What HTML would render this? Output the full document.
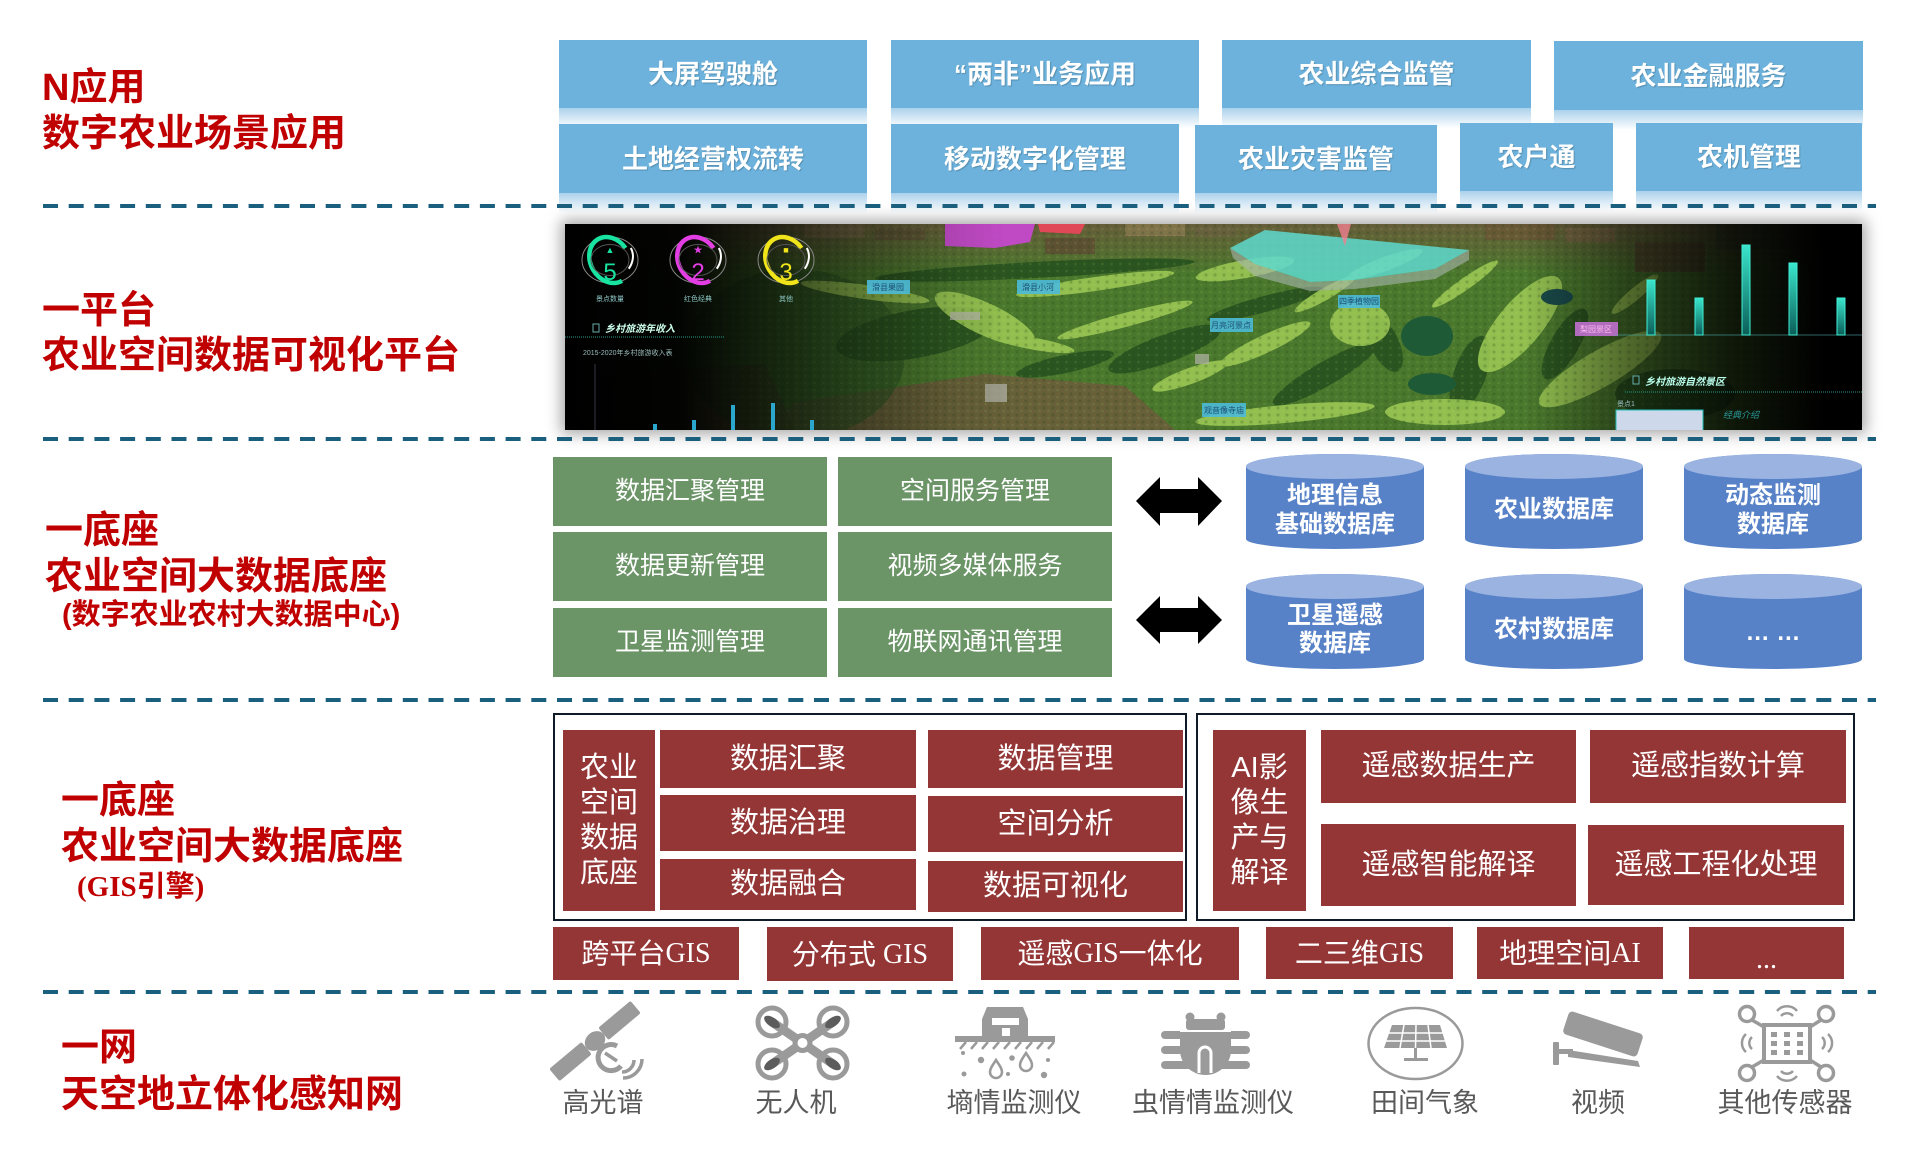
<!DOCTYPE html>
<html><head><meta charset="utf-8"><title>数字农业架构</title>
<style>
*{margin:0;padding:0;box-sizing:border-box}
html,body{width:1930px;height:1174px;background:#fff;overflow:hidden}
body{position:relative;font-family:"Liberation Sans","Noto Sans CJK SC",sans-serif}
.lbl{position:absolute;color:#c00000;font-weight:bold;font-size:38px;line-height:38px;white-space:nowrap}
.sub{font-size:29px;line-height:29px}
.bb{position:absolute;background:#6cb2dc;color:#fff;font-weight:bold;font-size:26px;line-height:26px;display:flex;align-items:center;justify-content:center;white-space:nowrap;text-shadow:1px 1px 1px rgba(0,0,0,.2)}
.bb::after{content:"";position:absolute;left:0;right:0;top:100%;height:20px;background:linear-gradient(to bottom,rgba(150,198,230,.8),rgba(255,255,255,0))}
.gb{position:absolute;background:#6b9467;color:#fff;font-size:25px;line-height:25px;display:flex;align-items:center;justify-content:center;white-space:nowrap;width:274px;height:69px}
.rb{position:absolute;background:#943636;color:#fff;font-size:29px;line-height:29px;display:flex;align-items:center;justify-content:center;white-space:nowrap}
.vt{flex-direction:column}
.vt span{display:block;line-height:35px;height:35px}
.sf{font-family:"Liberation Serif","Noto Sans CJK SC",serif}
.frame{position:absolute;border:2.5px solid #0f1c28}
.sl{position:absolute;font-size:27px;line-height:27px;color:#595959;width:220px;text-align:center;white-space:nowrap}
</style></head><body>

<!-- left labels -->
<div class="lbl" style="left:42px;top:69px">N应用</div>
<div class="lbl" style="left:42px;top:115px">数字农业场景应用</div>
<div class="lbl" style="left:42px;top:292px">一平台</div>
<div class="lbl" style="left:42px;top:337px">农业空间数据可视化平台</div>
<div class="lbl" style="left:45px;top:512px">一底座</div>
<div class="lbl" style="left:45px;top:558px">农业空间大数据底座</div>
<div class="lbl sub" style="left:62px;top:601px">(数字农业农村大数据中心)</div>
<div class="lbl" style="left:61px;top:782px">一底座</div>
<div class="lbl" style="left:61px;top:828px">农业空间大数据底座</div>
<div class="lbl sub" style="left:77px;top:873px"><span class="sf">(GIS</span>引擎<span class="sf">)</span></div>
<div class="lbl" style="left:61px;top:1029px">一网</div>
<div class="lbl" style="left:61px;top:1076px">天空地立体化感知网</div>

<!-- blue application boxes -->
<div class="bb" style="left:559px;top:40px;width:308px;height:68px">大屏驾驶舱</div>
<div class="bb" style="left:891px;top:40px;width:308px;height:68px">“两非”业务应用</div>
<div class="bb" style="left:1222px;top:40px;width:309px;height:68px">农业综合监管</div>
<div class="bb" style="left:1554px;top:41px;width:309px;height:69px">农业金融服务</div>
<div class="bb" style="left:559px;top:124px;width:308px;height:69px">土地经营权流转</div>
<div class="bb" style="left:891px;top:124px;width:288px;height:69px">移动数字化管理</div>
<div class="bb" style="left:1195px;top:125px;width:242px;height:68px">农业灾害监管</div>
<div class="bb" style="left:1460px;top:123px;width:153px;height:68px">农户通</div>
<div class="bb" style="left:1636px;top:123px;width:226px;height:68px">农机管理</div>

<!-- platform image -->
<div style="position:absolute;left:565px;top:224px;width:1297px;height:206px;box-shadow:0 0 14px 4px rgba(0,0,0,.35);overflow:hidden;background:#000">
<svg width="1297" height="206" viewBox="0 0 1297 206" style="display:block">
<defs>
<linearGradient id="lf" x1="0" x2="1" y1="0" y2="0">
<stop offset="0" stop-color="#000" stop-opacity="1"/>
<stop offset="0.09" stop-color="#000" stop-opacity=".96"/>
<stop offset="0.14" stop-color="#000" stop-opacity=".72"/>
<stop offset="0.22" stop-color="#000" stop-opacity=".38"/>
<stop offset="0.3" stop-color="#000" stop-opacity=".08"/>
<stop offset="0.34" stop-color="#000" stop-opacity="0"/>
</linearGradient>
<linearGradient id="rf" x1="0" x2="1" y1="0" y2="0">
<stop offset="0.74" stop-color="#000" stop-opacity="0"/>
<stop offset="0.82" stop-color="#000" stop-opacity=".45"/>
<stop offset="0.9" stop-color="#000" stop-opacity=".8"/>
<stop offset="0.97" stop-color="#000" stop-opacity="1"/>
</linearGradient>
<linearGradient id="tb" x1="0" y1="0" x2="0" y2="1">
<stop offset="0" stop-color="#6a5a3b" stop-opacity=".9"/>
<stop offset="1" stop-color="#6a5a3b" stop-opacity="0"/>
</linearGradient>
<linearGradient id="bg" x1="0" y1="0" x2="0" y2="1">
<stop offset="0" stop-color="#3ae6cc"/><stop offset="1" stop-color="#0b5e58"/>
</linearGradient>
<pattern id="tx" width="9" height="7" patternUnits="userSpaceOnUse">
<circle cx="2" cy="2" r="1.6" fill="#1f3f14" opacity=".22"/>
<circle cx="6.5" cy="5" r="1.3" fill="#b8e070" opacity=".12"/>
</pattern>
</defs>
<rect width="1297" height="206" fill="#4a782d"/>
<rect width="1297" height="50" fill="url(#tb)"/>
<g opacity=".75">
<rect x="240" y="0" width="60" height="14" fill="#7a6a48"/>
<rect x="310" y="4" width="50" height="12" fill="#5e5236"/>
<rect x="480" y="14" width="50" height="16" fill="#5d4a32"/>
<rect x="560" y="0" width="60" height="12" fill="#8a7a50"/>
<rect x="630" y="2" width="40" height="10" fill="#6a6040"/>
<rect x="920" y="0" width="70" height="16" fill="#6a5535"/>
<rect x="1000" y="4" width="50" height="14" fill="#7a6545"/>
<rect x="1070" y="18" width="70" height="30" fill="#5a4a30"/>
<rect x="1150" y="0" width="100" height="26" fill="#4d5a35"/>
</g>
<polygon points="230,178 420,150 560,162 610,206 200,206" fill="#6e5a3c" opacity=".8"/>
<polygon points="40,150 200,140 230,206 0,206" fill="#5a4a30" opacity=".8"/>
<ellipse cx="230" cy="130" rx="110" ry="85" fill="#2f5a24" opacity=".6"/>
<g fill="#2b5520">
<ellipse cx="470" cy="46" rx="160" ry="8" transform="rotate(-3 470 46)"/>
<ellipse cx="600" cy="125" rx="60" ry="14" transform="rotate(-20 600 125)"/>
<ellipse cx="760" cy="150" rx="60" ry="12" transform="rotate(-30 760 150)"/>
<ellipse cx="905" cy="150" rx="16" ry="40" transform="rotate(20 905 150)"/>
<ellipse cx="350" cy="110" rx="80" ry="24" transform="rotate(-10 350 110)"/>
<ellipse cx="1000" cy="120" rx="14" ry="40" transform="rotate(30 1000 120)"/>
<ellipse cx="700" cy="80" rx="60" ry="8" transform="rotate(-15 700 80)"/>
<ellipse cx="1110" cy="170" rx="60" ry="25"/>
<ellipse cx="820" cy="120" rx="14" ry="30" transform="rotate(-25 820 120)"/>
<ellipse cx="500" cy="140" rx="50" ry="9" transform="rotate(-12 500 140)"/>
</g>
<g fill="#9fcc55" opacity=".85">
<ellipse cx="300" cy="68" rx="65" ry="7" transform="rotate(8 300 68)"/>
<ellipse cx="420" cy="95" rx="55" ry="16" transform="rotate(25 420 95)"/>
<ellipse cx="530" cy="60" rx="80" ry="7" transform="rotate(-8 530 60)"/>
<ellipse cx="560" cy="96" rx="70" ry="7" transform="rotate(-15 560 96)"/>
<ellipse cx="680" cy="45" rx="50" ry="9" transform="rotate(-10 680 45)"/>
<ellipse cx="700" cy="120" rx="50" ry="9" transform="rotate(-25 700 120)"/>
<ellipse cx="795" cy="100" rx="30" ry="22"/>
<ellipse cx="955" cy="100" rx="60" ry="22" transform="rotate(-50 955 100)"/>
<ellipse cx="1035" cy="145" rx="70" ry="18" transform="rotate(-30 1035 145)"/>
<ellipse cx="720" cy="190" rx="90" ry="9" transform="rotate(-5 720 190)"/>
<ellipse cx="880" cy="188" rx="60" ry="13"/>
<ellipse cx="625" cy="152" rx="40" ry="8" transform="rotate(-20 625 152)"/>
<ellipse cx="820" cy="40" rx="40" ry="7" transform="rotate(-20 820 40)"/>
<ellipse cx="900" cy="60" rx="40" ry="6" transform="rotate(-35 900 60)"/>
<ellipse cx="1070" cy="70" rx="30" ry="6" transform="rotate(-40 1070 70)"/>
<ellipse cx="470" cy="120" rx="40" ry="6" transform="rotate(10 470 120)"/>
<ellipse cx="760" cy="70" rx="35" ry="6" transform="rotate(-30 760 70)"/>
</g>
<rect width="1297" height="206" fill="url(#tx)"/>
<g fill="#b4b4aa" opacity=".7">
<rect x="385" y="88" width="30" height="8"/><rect x="420" y="160" width="22" height="18"/><rect x="630" y="130" width="14" height="10"/>
</g>
<ellipse cx="862" cy="112" rx="26" ry="20" fill="#1e5a36"/>
<ellipse cx="867" cy="160" rx="24" ry="11" fill="#1e5a36"/>
<ellipse cx="992" cy="73" rx="16" ry="8" fill="#1a4a4a"/>
<polygon points="665,24 690,40 745,58 790,56 870,45 904,26 904,36 870,55 790,65 745,67 690,52 668,34" fill="#a9b6ad" opacity=".6"/>
<polygon points="665,24 700,6 904,26 870,45 790,56 745,58 690,40" fill="#5fd9cf" opacity=".85"/>
<polygon points="772,0 786,0 780,22" fill="#f08090" opacity=".8"/>
<polygon points="380,0 470,0 465,18 430,24 380,22" fill="#c848d0" opacity=".92"/>
<polygon points="473,0 520,0 515,10 475,8" fill="#e04858"/>
<rect width="1297" height="206" fill="url(#lf)"/>
<rect width="1297" height="206" fill="url(#rf)"/>
<!-- map labels -->
<g font-family="Liberation Sans,Noto Sans CJK SC,sans-serif" font-size="8" text-anchor="middle">
<rect x="302" y="56" width="43" height="14" fill="#4cbad8" opacity=".9"/><text x="323" y="66" fill="#1d4f73">滑县果园</text>
<rect x="452" y="56" width="43" height="14" fill="#4cbad8" opacity=".9"/><text x="473" y="66" fill="#1d4f73">滑县小河</text>
<rect x="773" y="71" width="42" height="13" fill="#4cbad8" opacity=".9"/><text x="794" y="80" fill="#1d4f73">四季植物园</text>
<rect x="645" y="94" width="43" height="14" fill="#4cbad8" opacity=".9"/><text x="666" y="104" fill="#1d4f73">月亮河景点</text>
<rect x="637" y="179" width="44" height="14" fill="#4cbad8" opacity=".9"/><text x="659" y="189" fill="#1d4f73">观音像寺庙</text>
<rect x="1010" y="98" width="43" height="14" fill="#c070d0" opacity=".9"/><text x="1031" y="108" fill="#fbe">梨园景区</text>
</g>
<!-- left panel -->
<g fill="none">
<ellipse cx="45" cy="36" rx="28" ry="23" stroke="#888" stroke-width="1"/>
<ellipse cx="45" cy="36" rx="24" ry="19.5" stroke="#19e3a0" stroke-width="4.5" stroke-dasharray="100 37.5" transform="rotate(60 45 36)"/>
<ellipse cx="45" cy="36" rx="24" ry="19.5" stroke="#fff" stroke-width="2" stroke-dasharray="22 116" transform="rotate(-30 45 36)"/>
<ellipse cx="45" cy="36" rx="19" ry="15.5" stroke="#555" stroke-width="1"/>
<ellipse cx="133" cy="36" rx="28" ry="23" stroke="#888" stroke-width="1"/>
<ellipse cx="133" cy="36" rx="24" ry="19.5" stroke="#e23ee3" stroke-width="4.5" stroke-dasharray="100 37.5" transform="rotate(60 133 36)"/>
<ellipse cx="133" cy="36" rx="24" ry="19.5" stroke="#fff" stroke-width="2" stroke-dasharray="22 116" transform="rotate(-30 133 36)"/>
<ellipse cx="133" cy="36" rx="19" ry="15.5" stroke="#555" stroke-width="1"/>
<ellipse cx="221" cy="36" rx="28" ry="23" stroke="#888" stroke-width="1"/>
<ellipse cx="221" cy="36" rx="24" ry="19.5" stroke="#f0e41a" stroke-width="4.5" stroke-dasharray="100 37.5" transform="rotate(60 221 36)"/>
<ellipse cx="221" cy="36" rx="24" ry="19.5" stroke="#fff" stroke-width="2" stroke-dasharray="22 116" transform="rotate(-30 221 36)"/>
<ellipse cx="221" cy="36" rx="19" ry="15.5" stroke="#555" stroke-width="1"/>
</g>
<g font-family="Liberation Sans,sans-serif" font-size="24" text-anchor="middle">
<text x="45" y="56" fill="#19e3a0">5</text>
<text x="133" y="56" fill="#e23ee3">2</text>
<text x="221" y="56" fill="#f0e41a">3</text>
</g>
<g font-family="Liberation Sans,Noto Sans CJK SC,sans-serif" font-size="9" text-anchor="middle">
<text x="45" y="29" fill="#19e3a0">▲</text><text x="133" y="29" fill="#e23ee3">★</text><text x="221" y="29" fill="#f0e41a">■</text>
</g>
<g font-family="Liberation Sans,Noto Sans CJK SC,sans-serif" font-size="7" fill="#8fc8c8" text-anchor="middle">
<text x="45" y="77">景点数量</text><text x="133" y="77">红色经典</text><text x="221" y="77">其他</text>
</g>
<rect x="28" y="100" width="6" height="8" fill="none" stroke="#6aa" stroke-width="1"/>
<text x="40" y="108" font-family="Liberation Sans,Noto Sans CJK SC,sans-serif" font-size="10" font-style="italic" font-weight="bold" fill="#cfe">乡村旅游年收入</text>
<line x1="0" y1="113" x2="160" y2="113" stroke="#2a9a8a" stroke-width="1" stroke-dasharray="1 1"/>
<text x="18" y="131" font-family="Liberation Sans,Noto Sans CJK SC,sans-serif" font-size="7" fill="#9bb">2015-2020年乡村旅游收入表</text>
<line x1="30" y1="140" x2="30" y2="206" stroke="#445" stroke-width=".8"/>
<g fill="#2ba6cc"><rect x="88" y="200" width="4" height="6"/><rect x="127" y="196" width="4" height="10"/><rect x="166" y="181" width="4" height="25"/><rect x="206" y="179" width="4" height="27"/><rect x="245" y="196" width="4" height="10"/></g>
<!-- right panel -->
<line x1="1050" y1="111" x2="1297" y2="111" stroke="#4aa8a8" stroke-width="1" opacity=".6"/>
<g fill="url(#bg)" stroke="#40f0d8" stroke-width="1">
<rect x="1082" y="56" width="8" height="55"/><rect x="1130" y="74" width="8" height="37"/><rect x="1177" y="21" width="8" height="90"/><rect x="1224" y="39" width="8" height="72"/><rect x="1272" y="74" width="8" height="37"/>
</g>
<rect x="1068" y="152" width="6" height="8" fill="none" stroke="#6aa" stroke-width="1"/>
<text x="1080" y="161" font-family="Liberation Sans,Noto Sans CJK SC,sans-serif" font-size="10" font-style="italic" font-weight="bold" fill="#bfe">乡村旅游自然景区</text>
<line x1="1060" y1="168" x2="1297" y2="168" stroke="#2a9a8a" stroke-width="1" stroke-dasharray="1 1"/>
<text x="1052" y="182" font-family="Liberation Sans,Noto Sans CJK SC,sans-serif" font-size="7" fill="#9bb">景点1</text>
<rect x="1051" y="186" width="87" height="21" fill="#cdd9ea" stroke="#2bb" stroke-width="1"/>
<text x="1158" y="194" font-family="Liberation Sans,Noto Sans CJK SC,sans-serif" font-size="9" font-style="italic" fill="#2a9a9a">经典介绍</text>
</svg></div>

<!-- green management boxes -->
<div class="gb" style="left:553px;top:457px">数据汇聚管理</div>
<div class="gb" style="left:838px;top:457px">空间服务管理</div>
<div class="gb" style="left:553px;top:532px">数据更新管理</div>
<div class="gb" style="left:838px;top:532px">视频多媒体服务</div>
<div class="gb" style="left:553px;top:608px">卫星监测管理</div>
<div class="gb" style="left:838px;top:608px">物联网通讯管理</div>

<!-- red section -->
<div class="frame" style="left:553px;top:713px;width:634px;height:208px"></div>
<div class="frame" style="left:1196px;top:713px;width:659px;height:208px"></div>
<div class="rb vt" style="left:563px;top:730px;width:92px;height:181px"><span>农业</span><span>空间</span><span>数据</span><span>底座</span></div>
<div class="rb" style="left:660px;top:730px;width:256px;height:58px">数据汇聚</div>
<div class="rb" style="left:928px;top:730px;width:255px;height:58px">数据管理</div>
<div class="rb" style="left:660px;top:795px;width:256px;height:56px">数据治理</div>
<div class="rb" style="left:928px;top:796px;width:255px;height:56px">空间分析</div>
<div class="rb" style="left:660px;top:859px;width:256px;height:51px">数据融合</div>
<div class="rb" style="left:928px;top:861px;width:255px;height:51px">数据可视化</div>
<div class="rb vt" style="left:1213px;top:730px;width:93px;height:181px"><span>AI影</span><span>像生</span><span>产与</span><span>解译</span></div>
<div class="rb" style="left:1321px;top:730px;width:255px;height:73px">遥感数据生产</div>
<div class="rb" style="left:1590px;top:730px;width:256px;height:73px">遥感指数计算</div>
<div class="rb" style="left:1321px;top:824px;width:255px;height:82px">遥感智能解译</div>
<div class="rb" style="left:1588px;top:825px;width:256px;height:80px">遥感工程化处理</div>
<div class="rb" style="left:553px;top:927px;width:186px;height:53px;font-size:28px">跨平台<span class="sf">GIS</span></div>
<div class="rb" style="left:767px;top:927px;width:186px;height:54px;font-size:28px">分布式<span class="sf">&nbsp;GIS</span></div>
<div class="rb" style="left:981px;top:927px;width:258px;height:53px;font-size:28px">遥感<span class="sf">GIS</span>一体化</div>
<div class="rb" style="left:1266px;top:927px;width:187px;height:52px;font-size:28px">二三维<span class="sf">GIS</span></div>
<div class="rb" style="left:1477px;top:927px;width:186px;height:52px;font-size:28px">地理空间<span class="sf">AI</span></div>
<div class="rb" style="left:1689px;top:927px;width:155px;height:52px;font-size:28px"><span class="sf" style="position:relative;top:6px">...</span></div>

<!-- sensor labels -->
<div class="sl" style="left:493px;top:1090px">高光谱</div>
<div class="sl" style="left:686px;top:1090px">无人机</div>
<div class="sl" style="left:904px;top:1090px">墒情监测仪</div>
<div class="sl" style="left:1103px;top:1090px">虫情情监测仪</div>
<div class="sl" style="left:1315px;top:1090px">田间气象</div>
<div class="sl" style="left:1488px;top:1090px">视频</div>
<div class="sl" style="left:1675px;top:1090px">其他传感器</div>

<!-- overlay shapes -->
<svg width="1930" height="1174" viewBox="0 0 1930 1174" style="position:absolute;left:0;top:0">
<g stroke="#1b5f7e" stroke-width="4" stroke-dasharray="15 10.7">
<line x1="43" y1="206" x2="1876" y2="206"/>
<line x1="43" y1="439" x2="1876" y2="439"/>
<line x1="43" y1="700" x2="1876" y2="700"/>
<line x1="43" y1="992" x2="1876" y2="992"/>
</g>
<!-- arrows -->
<polygon points="1136,501 1160,477 1160,489 1198,489 1198,477 1222,501 1198,526 1198,513 1160,513 1160,526" fill="#000"/>
<polygon points="1136,620 1160,596 1160,608 1198,608 1198,596 1222,620 1198,644 1198,632 1160,632 1160,644" fill="#000"/>
<!-- cylinders -->
<g>
<path d="M1246 466.5 A89 12.5 0 0 1 1424 466.5 V539 A89 10 0 0 1 1246 539 Z" fill="#5882c8"/>
<ellipse cx="1335" cy="466.5" rx="89" ry="12.5" fill="#9ab3e0"/>
<path d="M1465 466.5 A89 12.5 0 0 1 1643 466.5 V539 A89 10 0 0 1 1465 539 Z" fill="#5882c8"/>
<ellipse cx="1554" cy="466.5" rx="89" ry="12.5" fill="#9ab3e0"/>
<path d="M1684 466.5 A89 12.5 0 0 1 1862 466.5 V539 A89 10 0 0 1 1684 539 Z" fill="#5882c8"/>
<ellipse cx="1773" cy="466.5" rx="89" ry="12.5" fill="#9ab3e0"/>
<path d="M1246 586.5 A89 12.5 0 0 1 1424 586.5 V659 A89 10 0 0 1 1246 659 Z" fill="#5882c8"/>
<ellipse cx="1335" cy="586.5" rx="89" ry="12.5" fill="#9ab3e0"/>
<path d="M1465 586.5 A89 12.5 0 0 1 1643 586.5 V659 A89 10 0 0 1 1465 659 Z" fill="#5882c8"/>
<ellipse cx="1554" cy="586.5" rx="89" ry="12.5" fill="#9ab3e0"/>
<path d="M1684 586.5 A89 12.5 0 0 1 1862 586.5 V659 A89 10 0 0 1 1684 659 Z" fill="#5882c8"/>
<ellipse cx="1773" cy="586.5" rx="89" ry="12.5" fill="#9ab3e0"/>
</g>
<g font-family="Liberation Sans,Noto Sans CJK SC,sans-serif" font-weight="bold" font-size="24" fill="#fff" text-anchor="middle">
<text x="1335" y="503">地理信息</text><text x="1335" y="532">基础数据库</text>
<text x="1554" y="517">农业数据库</text>
<text x="1773" y="503">动态监测</text><text x="1773" y="532">数据库</text>
<text x="1335" y="623">卫星遥感</text><text x="1335" y="651">数据库</text>
<text x="1554" y="637">农村数据库</text>
<text x="1773" y="640">… …</text>
</g>
<!-- icons -->
<g fill="#9a9a9a">
<!-- satellite -->
<g transform="rotate(-40 595 1041)">
<rect x="606" y="1033" width="42" height="16" rx="2"/>
<rect x="542" y="1033" width="42" height="16" rx="2"/>
<ellipse cx="595" cy="1041" rx="11" ry="9"/>
</g>
<path d="M617 1046 A13 13 0 1 0 621 1066" fill="none" stroke="#9a9a9a" stroke-width="5"/>
<line x1="605" y1="1053" x2="617" y2="1061" stroke="#9a9a9a" stroke-width="3.5"/>
<path d="M622 1072 A12 12 0 0 0 634 1060" fill="none" stroke="#9a9a9a" stroke-width="3.5"/>
<path d="M623 1078 A19 19 0 0 0 642 1059" fill="none" stroke="#9a9a9a" stroke-width="3.5"/>
<!-- drone -->
<g stroke="#9a9a9a" fill="none">
<line x1="772" y1="1022" x2="833" y2="1064" stroke-width="9"/>
<line x1="833" y1="1022" x2="772" y2="1064" stroke-width="9"/>
<circle cx="772" cy="1022" r="14" stroke-width="5"/>
<circle cx="833" cy="1022" r="14" stroke-width="5"/>
<circle cx="772" cy="1064" r="14" stroke-width="5"/>
<circle cx="833" cy="1064" r="14" stroke-width="5"/>
</g>
<g fill="#5c5c5c">
<ellipse cx="772" cy="1022" rx="9" ry="4.5" transform="rotate(34.5 772 1022)"/>
<ellipse cx="833" cy="1064" rx="9" ry="4.5" transform="rotate(34.5 833 1064)"/>
<ellipse cx="833" cy="1022" rx="9" ry="4.5" transform="rotate(-34.5 833 1022)"/>
<ellipse cx="772" cy="1064" rx="9" ry="4.5" transform="rotate(-34.5 772 1064)"/>
</g>
<circle cx="802.5" cy="1043" r="10"/>
<circle cx="802.5" cy="1043" r="5" fill="#fff"/>
<!-- soil moisture -->
<path d="M987 1007 H1023 L1028 1019 V1037 H982 V1019 Z"/>
<rect x="992" y="1018" width="27" height="7" fill="#fff"/>
<rect x="1002" y="1028" width="8" height="9" fill="#fff"/>
<rect x="955" y="1036" width="100" height="6"/>
<g stroke="#9a9a9a" stroke-width="2.5">
<line x1="966" y1="1042" x2="960" y2="1049"/><line x1="977" y1="1042" x2="971" y2="1049"/><line x1="988" y1="1042" x2="982" y2="1049"/><line x1="999" y1="1042" x2="993" y2="1049"/><line x1="1010" y1="1042" x2="1004" y2="1049"/><line x1="1021" y1="1042" x2="1015" y2="1049"/><line x1="1032" y1="1042" x2="1026" y2="1049"/><line x1="1043" y1="1042" x2="1037" y2="1049"/><line x1="1054" y1="1042" x2="1048" y2="1049"/>
</g>
<path d="M996 1060 C992 1066 990 1069 990 1072 A6 6 0 0 0 1002 1072 C1002 1069 1000 1066 996 1060 Z" fill="none" stroke="#9a9a9a" stroke-width="2.5"/>
<path d="M1026 1053 C1022 1059 1020 1062 1020 1065 A6 6 0 0 0 1032 1065 C1032 1062 1030 1059 1026 1053 Z" fill="none" stroke="#9a9a9a" stroke-width="2.5"/>
<circle cx="963" cy="1053" r="2"/><circle cx="981" cy="1060" r="3.2"/><circle cx="964" cy="1074" r="2.5"/><circle cx="1008" cy="1074" r="2"/><circle cx="1012" cy="1058" r="2.8"/><circle cx="1048" cy="1060" r="2"/><circle cx="1044" cy="1075" r="3.2"/>
<!-- insect -->
<circle cx="1190" cy="1017" r="4.5"/><circle cx="1221" cy="1017" r="4.5"/>
<rect x="1186" y="1019" width="39" height="11" rx="3"/>
<path d="M1180 1032 H1231 V1050 A25.5 25 0 0 1 1180 1050 Z"/>
<rect x="1161" y="1031" width="89" height="8" rx="4"/>
<rect x="1161" y="1046" width="89" height="8" rx="4"/>
<rect x="1161" y="1061" width="89" height="8" rx="4"/>
<line x1="1180" y1="1031" x2="1231" y2="1031" stroke="#fff" stroke-width="2"/>
<path d="M1199 1073 V1053 A6 6 0 0 1 1211 1053 V1073" fill="none" stroke="#fff" stroke-width="3"/>
<!-- weather -->
<ellipse cx="1415.5" cy="1043.5" rx="47" ry="35.5" fill="none" stroke="#9a9a9a" stroke-width="2.5"/>
<polygon points="1392,1025 1440,1025 1447,1048 1384,1048"/>
<g stroke="#fff" stroke-width="1.5">
<line x1="1388" y1="1033" x2="1443" y2="1033"/><line x1="1386" y1="1041" x2="1445" y2="1041"/>
<line x1="1404" y1="1025" x2="1400" y2="1048"/><line x1="1416" y1="1025" x2="1415.5" y2="1048"/><line x1="1428" y1="1025" x2="1431" y2="1048"/>
</g>
<rect x="1414" y="1048" width="3" height="11"/>
<rect x="1404" y="1058" width="24" height="3"/>
<!-- camera -->
<rect x="1564" y="1022" width="78" height="24" rx="4" transform="rotate(18 1603 1034)"/>
<rect x="1553" y="1042" width="6" height="23" rx="1"/>
<rect x="1553" y="1049" width="20" height="5"/>
<path d="M1568 1050 L1638 1061 L1640 1067 L1568 1057 Z"/>
<!-- other sensors -->
<g fill="none" stroke="#9a9a9a">
<circle cx="1747" cy="1014" r="7.5" stroke-width="3.5"/><circle cx="1826" cy="1014" r="7.5" stroke-width="3.5"/>
<circle cx="1747" cy="1073" r="7.5" stroke-width="3.5"/><circle cx="1826" cy="1073" r="7.5" stroke-width="3.5"/>
<line x1="1752" y1="1020" x2="1764" y2="1027" stroke-width="3.5"/><line x1="1821" y1="1020" x2="1810" y2="1027" stroke-width="3.5"/>
<line x1="1752" y1="1067" x2="1764" y2="1060" stroke-width="3.5"/><line x1="1821" y1="1067" x2="1810" y2="1060" stroke-width="3.5"/>
<rect x="1764" y="1025" width="46" height="37" stroke-width="4"/>
<path d="M1781 1016 A8 8 0 0 1 1793 1016" stroke-width="2.5"/><path d="M1777 1011 A13 13 0 0 1 1797 1011" stroke-width="2.5"/>
<path d="M1781 1071 A8 8 0 0 0 1793 1071" stroke-width="2.5"/><path d="M1777 1076 A13 13 0 0 0 1797 1076" stroke-width="2.5"/>
<path d="M1752 1037 A8 8 0 0 0 1752 1049" stroke-width="2.5"/><path d="M1746 1034 A12 12 0 0 0 1746 1052" stroke-width="2.5"/>
<path d="M1822 1037 A8 8 0 0 1 1822 1049" stroke-width="2.5"/><path d="M1828 1034 A12 12 0 0 1 1828 1052" stroke-width="2.5"/>
</g>
<g>
<rect x="1771" y="1032" width="6" height="5"/><rect x="1784" y="1032" width="6" height="5"/><rect x="1797" y="1032" width="6" height="5"/>
<rect x="1771" y="1041" width="6" height="5"/><rect x="1784" y="1041" width="6" height="5"/><rect x="1797" y="1041" width="6" height="5"/>
<rect x="1771" y="1050" width="6" height="5"/><rect x="1784" y="1050" width="6" height="5"/><rect x="1797" y="1050" width="6" height="5"/>
</g>
</g>
</svg>
</body></html>
